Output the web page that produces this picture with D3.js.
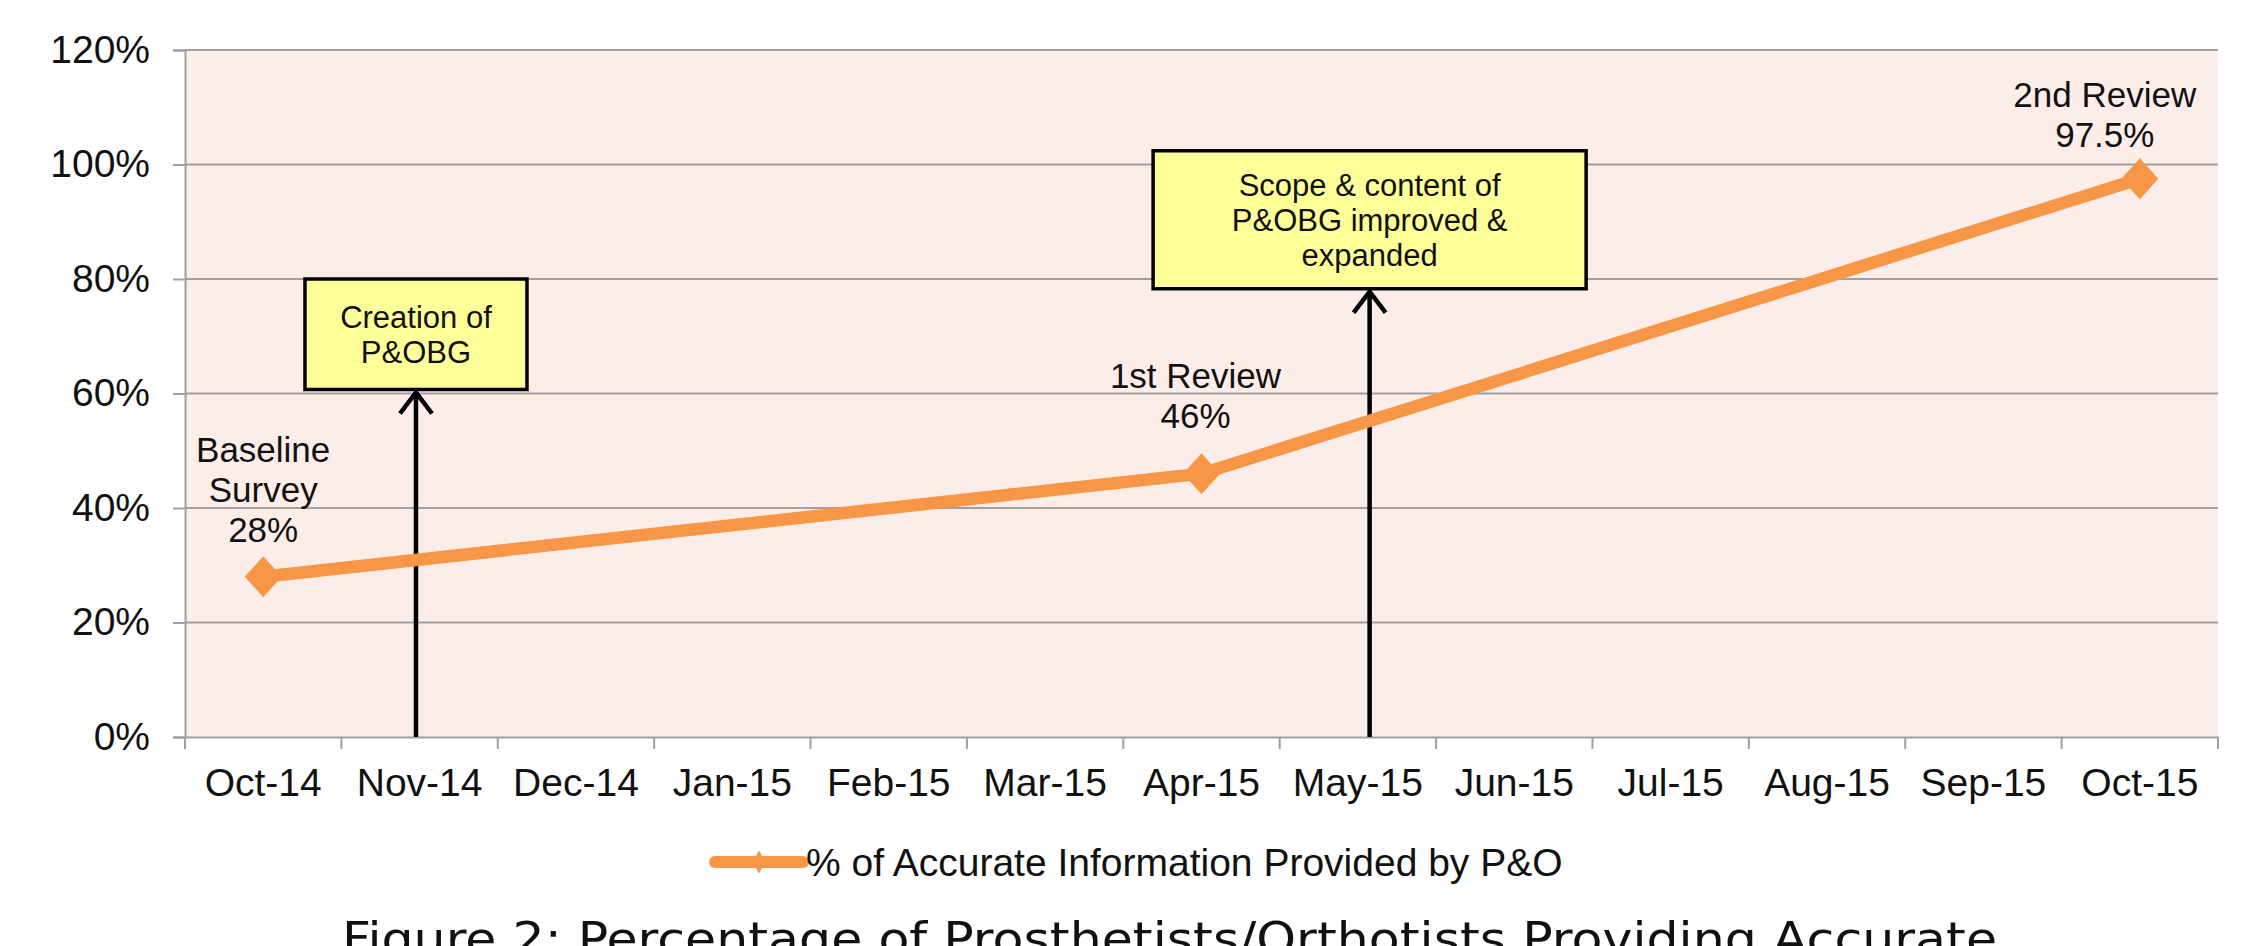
<!DOCTYPE html>
<html>
<head>
<meta charset="utf-8">
<script src="https://cdn.jsdelivr.net/npm/d3@7"></script>
<style>
  body { margin: 0; background: #fff; }
  svg { display: block; }
</style>
</head>
<body>
<div id="chart"></div>
<script>
// months on the category axis
const months = ["Oct-14", "Nov-14", "Dec-14", "Jan-15", "Feb-15", "Mar-15", "Apr-15",
  "May-15", "Jun-15", "Jul-15", "Aug-15", "Sep-15", "Oct-15"];
// % of accurate information (only three surveys were done)
const accuracy = [0.28, null, null, null, null, null, 0.46, null, null, null, null, null, 0.975];
const pointLabels = [["Baseline", "Survey", "28%"], null, null, null, null, null, ["1st Review", "46%"],
  null, null, null, null, null, ["2nd Review", "97.5%"]];
const yTicks = [0, 0.2, 0.4, 0.6, 0.8, 1.0, 1.2];
const seriesName = "% of Accurate Information Provided by P&O";
// call-out boxes and the month their arrow points at
const noteTexts = [["Creation of", "P&OBG"], ["Scope & content of", "P&OBG improved &", "expanded"]];
const noteMonths = ["Nov-14", "May-15"];
const caption = "Figure 2: Percentage of Prosthetists/Orthotists Providing Accurate";

const width = 2253;
const height = 946;
const margin = { top: 50, right: 35, bottom: 209, left: 185 };
const orange = "#F79646";
const font = "'Liberation Sans', Arial, sans-serif";

const svg = d3.select("#chart")
  .append("svg")
  .attr("width", width)
  .attr("height", height);

const x = d3.scaleBand()
  .domain(months)
  .range([margin.left, width - margin.right])
  .padding(0);

const y = d3.scaleLinear()
  .domain([0, 1.2])
  .range([height - margin.bottom, margin.top]);

const cx = m => x(m) + x.bandwidth() / 2;

// plot area
svg.append("rect")
  .attr("x", x.range()[0])
  .attr("y", y(1.2))
  .attr("width", x.range()[1] - x.range()[0])
  .attr("height", y(0) - y(1.2))
  .attr("fill", "#FCEDE8");

// gridlines
svg.append("g")
  .selectAll("line")
  .data(yTicks.filter(d => d > 0))
  .enter()
  .append("line")
  .attr("x1", x.range()[0])
  .attr("x2", x.range()[1])
  .attr("y1", d => y(d))
  .attr("y2", d => y(d))
  .attr("stroke", "#A0A0A0")
  .attr("stroke-width", 2);

// y axis
const yAxis = svg.append("g")
  .attr("transform", `translate(${x.range()[0]},0)`)
  .call(d3.axisLeft(y).tickValues(yTicks).tickFormat(d3.format(".0%")).tickSize(12).tickPadding(23));
yAxis.select(".domain").attr("stroke", "#A0A0A0").attr("stroke-width", 2);
yAxis.selectAll(".tick line").attr("stroke", "#A0A0A0").attr("stroke-width", 2);
yAxis.selectAll("text")
  .style("font-family", font)
  .style("font-size", "39px")
  .attr("fill", "#111");

// x axis (ticks sit on the band edges)
const xAxis = svg.append("g")
  .attr("transform", `translate(0,${y(0)})`)
  .call(d3.axisBottom(x).tickSize(0).tickPadding(31));
xAxis.select(".domain").attr("stroke", "#A0A0A0").attr("stroke-width", 2);
xAxis.selectAll("text")
  .style("font-family", font)
  .style("font-size", "39px")
  .attr("fill", "#111");
svg.append("g")
  .selectAll("line")
  .data(months.map(m => x(m)).concat([x.range()[1]]))
  .enter()
  .append("line")
  .attr("x1", d => d)
  .attr("x2", d => d)
  .attr("y1", y(0))
  .attr("y2", y(0) + 12)
  .attr("stroke", "#A0A0A0")
  .attr("stroke-width", 2);

// annotation boxes + arrows
const noteLayout = [
  { shift: -0.023, top: 0.80, bottom: 0.607, w: 222 },
  { shift: 0.075, top: 1.024, bottom: 0.783, w: 433 }
];
noteTexts.forEach((lines, i) => {
  const L = noteLayout[i];
  const ax = cx(noteMonths[i]) + L.shift * x.bandwidth();
  const g = svg.append("g");
  const tipY = y(L.bottom) + 3;
  g.append("line")
    .attr("x1", ax).attr("x2", ax)
    .attr("y1", y(0)).attr("y2", tipY)
    .attr("stroke", "#000").attr("stroke-width", 4.5);
  g.append("path")
    .attr("d", `M${ax - 16},${tipY + 21}L${ax},${tipY}L${ax + 16},${tipY + 21}`)
    .attr("fill", "none").attr("stroke", "#000").attr("stroke-width", 4.5);
  g.append("rect")
    .attr("x", ax - L.w / 2)
    .attr("y", y(L.top))
    .attr("width", L.w)
    .attr("height", y(L.bottom) - y(L.top))
    .attr("fill", "#FFFF99")
    .attr("stroke", "#000")
    .attr("stroke-width", 3.5);
  const midY = (y(L.top) + y(L.bottom)) / 2;
  const lh = 35;
  g.append("text")
    .attr("text-anchor", "middle")
    .style("font-family", font)
    .style("font-size", "31px")
    .attr("fill", "#111")
    .selectAll("tspan")
    .data(lines)
    .enter()
    .append("tspan")
    .attr("x", ax)
    .attr("y", (d, k) => midY + (k - (lines.length - 1) / 2) * lh + 11)
    .text(d => d);
});

// series line
const pts = months.map((m, i) => ({ m, v: accuracy[i], label: pointLabels[i] }))
  .filter(d => d.v !== null);

svg.append("path")
  .datum(pts)
  .attr("fill", "none")
  .attr("stroke", orange)
  .attr("stroke-width", 12.5)
  .attr("stroke-linejoin", "round")
  .attr("d", d3.line().x(d => cx(d.m)).y(d => y(d.v)));

const diamond = "M0,-20.5L18.5,0L0,20.5L-18.5,0Z";
svg.append("g")
  .selectAll("path")
  .data(pts)
  .enter()
  .append("path")
  .attr("transform", d => `translate(${cx(d.m)},${y(d.v)})`)
  .attr("d", diamond)
  .attr("fill", orange);

// data labels (manually nudged like the original)
const labelNudge = { "Oct-14": { dx: 0, dy: -35 }, "Apr-15": { dx: -6, dy: -46 }, "Oct-15": { dx: -35, dy: -32 } };
pts.forEach(d => {
  const n = labelNudge[d.m];
  const t = svg.append("text")
    .attr("text-anchor", "middle")
    .style("font-family", font)
    .style("font-size", "35px")
    .attr("fill", "#111");
  const k = d.label.length;
  d.label.forEach((s, j) => {
    t.append("tspan")
      .attr("x", cx(d.m) + n.dx)
      .attr("y", y(d.v) + n.dy - (k - 1 - j) * 40)
      .text(s);
  });
});

// legend
const lg = svg.append("g").attr("transform", "translate(715,862)");
lg.append("line")
  .attr("x1", 0).attr("x2", 88)
  .attr("stroke", orange).attr("stroke-width", 12).attr("stroke-linecap", "round");
lg.append("path")
  .attr("transform", "translate(44,0)")
  .attr("d", "M0,-11.5L6.5,0L0,11.5L-6.5,0Z")
  .attr("fill", orange);
lg.append("text")
  .attr("x", 91)
  .attr("dy", "0.35em")
  .style("font-family", font)
  .style("font-size", "39px")
  .attr("fill", "#111")
  .text(seriesName);

// figure caption (cut off by the page edge, as in the source)
svg.append("text")
  .attr("x", 342)
  .attr("y", 955)
  .attr("textLength", 1655)
  .attr("lengthAdjust", "spacingAndGlyphs")
  .style("font-family", "'DejaVu Sans', sans-serif")
  .style("font-size", "46px")
  .attr("fill", "#111")
  .text(caption);
</script>
</body>
</html>
